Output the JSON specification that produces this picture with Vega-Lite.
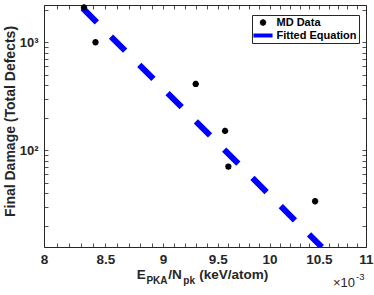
{
  "$schema": "https://vega.github.io/schema/vega-lite/v6.json",
  "width": 322,
  "height": 242,
  "autosize": "none",
  "padding": {"left": 44, "top": 5, "right": 8, "bottom": 48},
  "background": "white",
  "config": {
    "view": {"stroke": "#262626", "strokeWidth": 1},
    "font": "Liberation Sans",
    "axis": {
      "grid": false,
      "domain": false,
      "labelFont": "Liberation Sans",
      "labelFontWeight": "bold",
      "labelColor": "#262626",
      "tickColor": "#262626",
      "tickWidth": 0.8,
      "tickSize": -4,
      "labelOverlap": false,
      "labelFlush": false,
      "titleFont": "Liberation Sans",
      "titleFontWeight": "bold",
      "titleColor": "#262626"
    }
  },
  "layer": [
    {
      "data": {"values": [{"x": 8.312, "y": 2065}, {"x": 10.53, "y": 12.65}]},
      "mark": {"type": "line", "color": "#0000ff", "strokeWidth": 6, "strokeDash": [20, 20], "strokeCap": "butt", "clip": true},
      "encoding": {
        "x": {"field": "x", "type": "quantitative", "scale": {"type": "log", "domain": [8, 11], "nice": false},
          "axis": {"orient": "top", "labels": false, "title": null, "values": [8,8.1,8.2,8.3,8.4,8.5,8.6,8.7,8.8,8.9,9,9.1,9.2,9.3,9.4,9.5,9.6,9.7,9.8,9.9,10,10.1,10.2,10.3,10.4,10.5,10.6,10.7,10.8,10.9,11]}},
        "y": {"field": "y", "type": "quantitative", "scale": {"type": "log", "domain": [12.7, 2213], "nice": false},
          "axis": {"orient": "right", "labels": false, "title": null, "values": [20,30,40,50,60,70,80,90,100,200,300,400,500,600,700,800,900,1000,2000]}}
      }
    },
    {
      "data": {"values": [
        {"x": 8.323, "y": 2100, "series": "MD Data"},
        {"x": 8.418, "y": 1000, "series": "MD Data"},
        {"x": 9.295, "y": 411, "series": "MD Data"},
        {"x": 9.569, "y": 151, "series": "MD Data"},
        {"x": 9.6, "y": 70.5, "series": "MD Data"},
        {"x": 10.46, "y": 33.7, "series": "MD Data"}
      ]},
      "mark": {"type": "point", "filled": false, "strokeWidth": 2, "size": 81, "opacity": 1},
      "encoding": {
        "x": {"field": "x", "type": "quantitative", "scale": {"type": "log", "domain": [8, 11], "nice": false},
          "axis": {"orient": "bottom", "title": null, "format": "~g", "labelFontSize": 13.5, "labelPadding": 9, "labelBaseline": "top",
            "values": [8,8.1,8.2,8.3,8.4,8.5,8.6,8.7,8.8,8.9,9,9.1,9.2,9.3,9.4,9.5,9.6,9.7,9.8,9.9,10,10.1,10.2,10.3,10.4,10.5,10.6,10.7,10.8,10.9,11],
            "labelExpr": "indexof([8,8.5,9,9.5,10,10.5,11], datum.value) >= 0 ? datum.label : ''"}},
        "y": {"field": "y", "type": "quantitative", "scale": {"type": "log", "domain": [12.7, 2213], "nice": false},
          "axis": {"orient": "left", "title": "Final Damage (Total Defects)", "titleFontSize": 14, "titleX": -27, "titleY": 116, "titleBaseline": "bottom", "titleAngle": -90,
            "labelFontSize": 13, "labelPadding": 10,
            "values": [20,30,40,50,60,70,80,90,100,200,300,400,500,600,700,800,900,1000,2000],
            "labelExpr": "datum.value == 100 ? '10²' : datum.value == 1000 ? '10³' : ''"}},
        "color": {"field": "series", "type": "nominal",
          "scale": {"domain": ["MD Data", "Fitted Equation"], "range": ["#000000", "#0000ff"]},
          "legend": {
            "title": null, "orient": "none", "legendX": 208, "legendY": 10,
            "strokeColor": "#262626", "fillColor": "white", "padding": 2,
            "labelFont": "Liberation Sans", "labelFontWeight": "bold", "labelFontSize": 11, "labelColor": "#000000",
            "labelOffset": 8, "symbolOffset": 3.5, "rowPadding": -3, "symbolSize": 81, "symbolStrokeWidth": 2
          }},
        "shape": {"field": "series", "type": "nominal",
          "scale": {"domain": ["MD Data", "Fitted Equation"], "range": ["M0,-0.7L0,0.7M-0.7,0L0.7,0M-0.5,-0.5L0.5,0.5M-0.5,0.5L0.5,-0.5", "M-1.9,-0.22L1.9,-0.22L1.9,0.22L-1.9,0.22Z"]}}
      }
    },
    {
      "data": {"values": [{}]},
      "mark": {"type": "text", "text": "E", "x": 92.7, "y": 274, "align": "left", "baseline": "alphabetic", "font": "Liberation Sans", "fontWeight": "bold", "fontSize": 13.5, "color": "#262626"}
    },
    {
      "data": {"values": [{}]},
      "mark": {"type": "text", "text": "PKA", "x": 102.4, "y": 278.5, "align": "left", "baseline": "alphabetic", "font": "Liberation Sans", "fontWeight": "bold", "fontSize": 10, "color": "#262626"}
    },
    {
      "data": {"values": [{}]},
      "mark": {"type": "text", "text": "/N", "x": 124.3, "y": 274, "align": "left", "baseline": "alphabetic", "font": "Liberation Sans", "fontWeight": "bold", "fontSize": 13.5, "color": "#262626"}
    },
    {
      "data": {"values": [{}]},
      "mark": {"type": "text", "text": "pk", "x": 139.3, "y": 278.5, "align": "left", "baseline": "alphabetic", "font": "Liberation Sans", "fontWeight": "bold", "fontSize": 10, "color": "#262626"}
    },
    {
      "data": {"values": [{}]},
      "mark": {"type": "text", "text": "(keV/atom)", "x": 155.3, "y": 274, "align": "left", "baseline": "alphabetic", "font": "Liberation Sans", "fontWeight": "bold", "fontSize": 13.5, "color": "#262626"}
    },
    {
      "data": {"values": [{}]},
      "mark": {"type": "text", "text": "×10", "x": 289, "y": 282, "align": "left", "baseline": "alphabetic", "font": "Liberation Sans", "fontSize": 13, "color": "#262626"}
    },
    {
      "data": {"values": [{}]},
      "mark": {"type": "text", "text": "-3", "x": 312, "y": 275, "align": "left", "baseline": "alphabetic", "font": "Liberation Sans", "fontSize": 9.5, "color": "#262626"}
    }
  ],
  "resolve": {"axis": {"x": "independent", "y": "independent"}}
}
